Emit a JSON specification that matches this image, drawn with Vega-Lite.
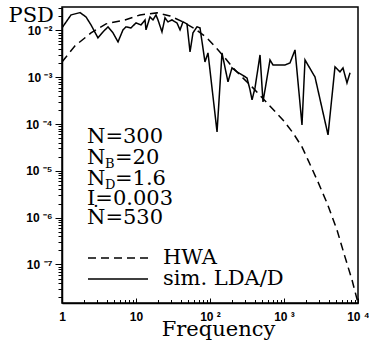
{
  "$schema": "https://vega.github.io/schema/vega-lite/v6.json",
  "width": 296,
  "height": 296,
  "autosize": "none",
  "padding": {"left": 62, "top": 7, "right": 11, "bottom": 46},
  "background": "white",
  "config": {
    "view": {"stroke": "black", "strokeWidth": 1.5},
    "axis": {
      "grid": false,
      "domainColor": "black",
      "domainWidth": 1.5,
      "tickColor": "black",
      "tickWidth": 1,
      "labelColor": "black",
      "labelFont": "Liberation Sans",
      "labelFontWeight": "bold",
      "labelFontSize": 12,
      "labelOverlap": false,
      "labelFlush": false,
      "titleFont": "DejaVu Serif",
      "titleFontWeight": "normal",
      "titleFontSize": 21,
      "titleColor": "black"
    }
  },
  "datasets": {
    "curves": [
      {"series": "sim. LDA/D", "f": 1, "p": 0.0113},
      {"series": "sim. LDA/D", "f": 1.324, "p": 0.0214},
      {"series": "sim. LDA/D", "f": 1.75, "p": 0.024},
      {"series": "sim. LDA/D", "f": 2.109, "p": 0.0194},
      {"series": "sim. LDA/D", "f": 2.466, "p": 0.0131},
      {"series": "sim. LDA/D", "f": 3.062, "p": 0.00692},
      {"series": "sim. LDA/D", "f": 3.581, "p": 0.00929},
      {"series": "sim. LDA/D", "f": 4.188, "p": 0.0119},
      {"series": "sim. LDA/D", "f": 4.887, "p": 0.00885},
      {"series": "sim. LDA/D", "f": 5.715, "p": 0.00568},
      {"series": "sim. LDA/D", "f": 6.668, "p": 0.01026},
      {"series": "sim. LDA/D", "f": 7.328, "p": 0.0119},
      {"series": "sim. LDA/D", "f": 8.551, "p": 0.0113},
      {"series": "sim. LDA/D", "f": 10, "p": 0.01445},
      {"series": "sim. LDA/D", "f": 11.7, "p": 0.0131},
      {"series": "sim. LDA/D", "f": 13.24, "p": 0.01675},
      {"series": "sim. LDA/D", "f": 13.65, "p": 0.01026},
      {"series": "sim. LDA/D", "f": 15.45, "p": 0.0194},
      {"series": "sim. LDA/D", "f": 16.98, "p": 0.01675},
      {"series": "sim. LDA/D", "f": 18.62, "p": 0.0214},
      {"series": "sim. LDA/D", "f": 19.82, "p": 0.01675},
      {"series": "sim. LDA/D", "f": 22.44, "p": 0.00929},
      {"series": "sim. LDA/D", "f": 24.66, "p": 0.0185},
      {"series": "sim. LDA/D", "f": 27.04, "p": 0.0152},
      {"series": "sim. LDA/D", "f": 30.62, "p": 0.01675},
      {"series": "sim. LDA/D", "f": 35.81, "p": 0.01445},
      {"series": "sim. LDA/D", "f": 39.36, "p": 0.01026},
      {"series": "sim. LDA/D", "f": 43.15, "p": 0.0152},
      {"series": "sim. LDA/D", "f": 48.87, "p": 0.01377},
      {"series": "sim. LDA/D", "f": 53.7, "p": 0.00348},
      {"series": "sim. LDA/D", "f": 58.88, "p": 0.00885},
      {"series": "sim. LDA/D", "f": 66.68, "p": 0.0119},
      {"series": "sim. LDA/D", "f": 73.28, "p": 0.0113},
      {"series": "sim. LDA/D", "f": 85.51, "p": 0.00212},
      {"series": "sim. LDA/D", "f": 93.97, "p": 0.0033},
      {"series": "sim. LDA/D", "f": 124.5, "p": 0.0000678},
      {"series": "sim. LDA/D", "f": 145.2, "p": 0.0033},
      {"series": "sim. LDA/D", "f": 175, "p": 0.000794},
      {"series": "sim. LDA/D", "f": 198.2, "p": 0.00158},
      {"series": "sim. LDA/D", "f": 231.7, "p": 0.0013},
      {"series": "sim. LDA/D", "f": 270.4, "p": 0.00112},
      {"series": "sim. LDA/D", "f": 316.2, "p": 0.000966},
      {"series": "sim. LDA/D", "f": 347.5, "p": 0.000536},
      {"series": "sim. LDA/D", "f": 369.8, "p": 0.000327},
      {"series": "sim. LDA/D", "f": 405.5, "p": 0.00059},
      {"series": "sim. LDA/D", "f": 474.2, "p": 0.00299},
      {"series": "sim. LDA/D", "f": 520, "p": 0.000296},
      {"series": "sim. LDA/D", "f": 647.1, "p": 0.00234},
      {"series": "sim. LDA/D", "f": 709.6, "p": 0.00183},
      {"series": "sim. LDA/D", "f": 1033, "p": 0.00183},
      {"series": "sim. LDA/D", "f": 1205, "p": 0.00202},
      {"series": "sim. LDA/D", "f": 1409, "p": 0.00383},
      {"series": "sim. LDA/D", "f": 1750, "p": 0.0000957},
      {"series": "sim. LDA/D", "f": 1923, "p": 0.00234},
      {"series": "sim. LDA/D", "f": 2388, "p": 0.0013},
      {"series": "sim. LDA/D", "f": 2624, "p": 0.00101},
      {"series": "sim. LDA/D", "f": 3936, "p": 0.0000585},
      {"series": "sim. LDA/D", "f": 4887, "p": 0.00166},
      {"series": "sim. LDA/D", "f": 5715, "p": 0.0013},
      {"series": "sim. LDA/D", "f": 6266, "p": 0.00158},
      {"series": "sim. LDA/D", "f": 7096, "p": 0.000755},
      {"series": "sim. LDA/D", "f": 7798, "p": 0.00124},
      {"series": "HWA", "f": 1, "p": 0.00212},
      {"series": "HWA", "f": 1.5, "p": 0.00467},
      {"series": "HWA", "f": 2.466, "p": 0.00885},
      {"series": "HWA", "f": 3.936, "p": 0.01377},
      {"series": "HWA", "f": 7.096, "p": 0.01675},
      {"series": "HWA", "f": 11.32, "p": 0.0214},
      {"series": "HWA", "f": 19.23, "p": 0.02366},
      {"series": "HWA", "f": 28.77, "p": 0.0204},
      {"series": "HWA", "f": 43.15, "p": 0.0152},
      {"series": "HWA", "f": 62.66, "p": 0.01076},
      {"series": "HWA", "f": 91, "p": 0.00692},
      {"series": "HWA", "f": 124.5, "p": 0.00403},
      {"series": "HWA", "f": 159.6, "p": 0.00258},
      {"series": "HWA", "f": 204.6, "p": 0.00158},
      {"series": "HWA", "f": 270.4, "p": 0.00101},
      {"series": "HWA", "f": 369.8, "p": 0.000621},
      {"series": "HWA", "f": 588.8, "p": 0.000283},
      {"series": "HWA", "f": 968.3, "p": 0.000122},
      {"series": "HWA", "f": 1324, "p": 0.0000646},
      {"series": "HWA", "f": 1750, "p": 0.0000324},
      {"series": "HWA", "f": 2109, "p": 0.0000171},
      {"series": "HWA", "f": 2877, "p": 0.00000579},
      {"series": "HWA", "f": 3811, "p": 0.00000206},
      {"series": "HWA", "f": 5200, "p": 0.000000546},
      {"series": "HWA", "f": 6668, "p": 0.000000145},
      {"series": "HWA", "f": 8299, "p": 0.0000000467},
      {"series": "HWA", "f": 10000, "p": 0.000000015}
    ],
    "notes": [
      {"f": 2.177, "p": 0.0000394, "t": "N=300"},
      {"f": 2.177, "p": 0.000014, "t": "N"},
      {"f": 5.2, "p": 0.000014, "t": "=20"},
      {"f": 2.177, "p": 0.000005, "t": "N"},
      {"f": 5.2, "p": 0.000005, "t": "=1.6"},
      {"f": 2.177, "p": 0.00000187, "t": "I=0.003"},
      {"f": 2.177, "p": 0.000000733, "t": "N\u0307=530"}
    ],
    "subs": [
      {"f": 3.811, "p": 0.0000115, "t": "B"},
      {"f": 3.811, "p": 0.0000041, "t": "D"}
    ]
  },
  "encoding": {
    "x": {
      "field": "f",
      "type": "quantitative",
      "scale": {"type": "log", "domain": [1, 10000], "nice": false},
      "axis": {
        "title": "Frequency",
        "titleX": 156,
        "titleY": 32,
        "titleAlign": "center",
        "titleBaseline": "alphabetic",
        "values": [1,2,3,4,5,6,7,8,9,10,20,30,40,50,60,70,80,90,100,200,300,400,500,600,700,800,900,1000,2000,3000,4000,5000,6000,7000,8000,9000,10000],
        "labelExpr": "abs(log(datum.value)/LN10 - round(log(datum.value)/LN10)) < 0.001 ? (datum.value < 2 ? '1' : datum.value < 20 ? '10' : '10 ' + ['⁰','¹','²','³','⁴'][round(log(datum.value)/LN10)]) : ''",
        "tickSize": {"condition": {"test": "abs(log(datum.value)/LN10 - round(log(datum.value)/LN10)) < 0.001", "value": -5}, "value": -3.5},
        "labelPadding": 13
      }
    },
    "y": {
      "field": "p",
      "type": "quantitative",
      "scale": {"type": "log", "domain": [0.000000015, 0.0316], "nice": false},
      "axis": {
        "title": "PSD",
        "titleAngle": 0,
        "titleX": -54,
        "titleY": 14,
        "titleAlign": "left",
        "titleBaseline": "alphabetic",
        "values": [2e-8,3e-8,4e-8,5e-8,6e-8,7e-8,8e-8,9e-8,1e-7,2e-7,3e-7,4e-7,5e-7,6e-7,7e-7,8e-7,9e-7,1e-6,2e-6,3e-6,4e-6,5e-6,6e-6,7e-6,8e-6,9e-6,1e-5,2e-5,3e-5,4e-5,5e-5,6e-5,7e-5,8e-5,9e-5,1e-4,2e-4,3e-4,4e-4,5e-4,6e-4,7e-4,8e-4,9e-4,1e-3,2e-3,3e-3,4e-3,5e-3,6e-3,7e-3,8e-3,9e-3,1e-2,2e-2,3e-2],
        "labelExpr": "abs(log(datum.value)/LN10 - round(log(datum.value)/LN10)) < 0.001 ? '10 ⁻' + ['⁰','¹','²','³','⁴','⁵','⁶','⁷','⁸','⁹'][-round(log(datum.value)/LN10)] : ''",
        "tickSize": {"condition": {"test": "abs(log(datum.value)/LN10 - round(log(datum.value)/LN10)) < 0.001", "value": 7}, "value": 4},
        "labelPadding": 3
      }
    }
  },
  "layer": [
    {
      "data": {"name": "curves"},
      "mark": {"type": "line", "color": "black", "strokeWidth": 1.5, "clip": true},
      "encoding": {
        "strokeDash": {
          "field": "series",
          "type": "nominal",
          "scale": {"domain": ["HWA", "sim. LDA/D"], "range": [[8, 5], [1, 0]]},
          "legend": {
            "orient": "none",
            "legendX": 45,
            "legendY": 240,
            "padding": 0,
            "title": null,
            "symbolType": "M-3,0H3",
            "symbolSize": 400,
            "symbolStrokeWidth": 1.5,
            "symbolStrokeColor": "black",
            "labelFont": "DejaVu Serif",
            "labelFontSize": 21,
            "labelColor": "black",
            "labelOffset": 34,
            "rowPadding": 0,
            "labelLimit": 300
          }
        }
      }
    },
    {
      "data": {"name": "notes"},
      "mark": {"type": "text", "font": "DejaVu Serif", "fontSize": 21, "align": "left", "baseline": "alphabetic", "color": "black"},
      "encoding": {"text": {"field": "t"}}
    },
    {
      "data": {"name": "subs"},
      "mark": {"type": "text", "font": "DejaVu Serif", "fontSize": 13, "align": "left", "baseline": "alphabetic", "color": "black"},
      "encoding": {"text": {"field": "t"}}
    }
  ]
}
